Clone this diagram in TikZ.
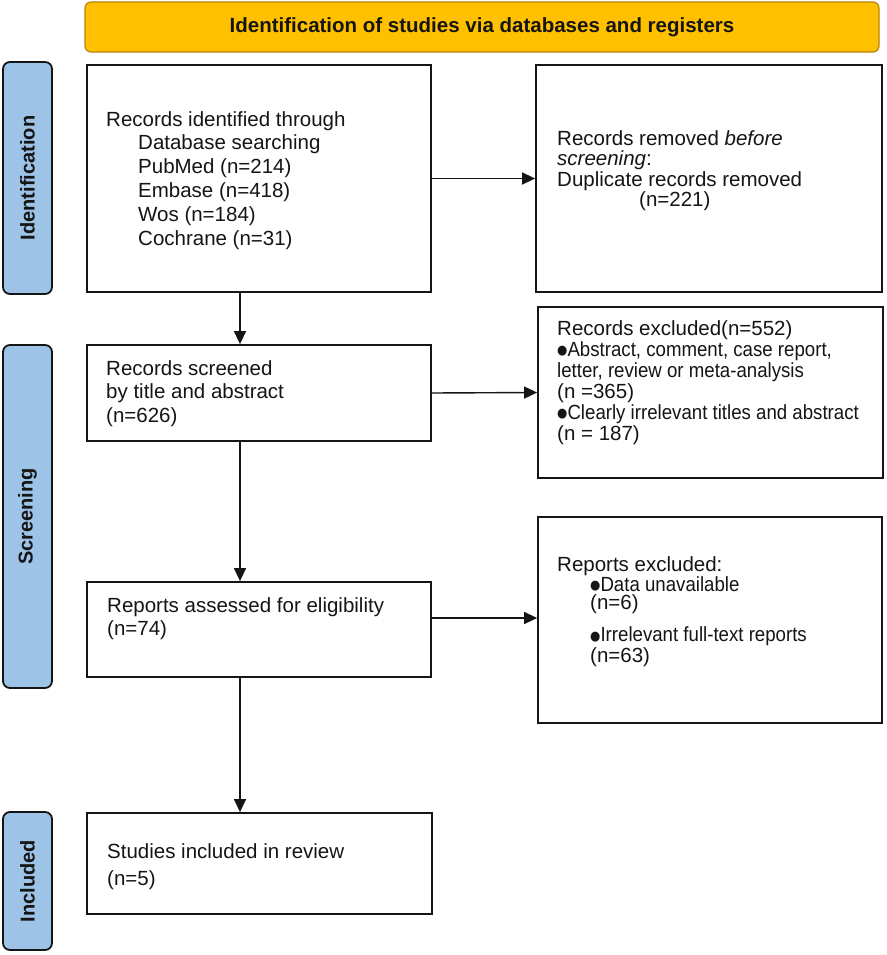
\documentclass[tikz,border=0pt]{standalone}
\usepackage{fontspec}
\setmainfont{Liberation Sans}
\newfontfamily\symfont{DejaVu Sans}
\usetikzlibrary{arrows.meta,fit}
\definecolor{bannerfill}{HTML}{FFC000}
\definecolor{bannerline}{HTML}{B8860B}
\definecolor{sideblue}{HTML}{9DC3E6}
\definecolor{ink}{HTML}{151515}
\newcommand\bul{\raisebox{1.5pt}{\symfont\fontsize{13}{13}\selectfont ●}}
\newcommand\narrow[1]{\scalebox{0.91}[1]{#1}}
\begin{document}
\begin{tikzpicture}[x=1pt,y=-1pt,
  box/.style={draw=ink, line width=1.8pt, inner sep=0pt, fill=white},
  side/.style={draw=ink, line width=1.8pt, fill=sideblue, rounded corners=7pt,
    inner sep=0pt, text=ink, font=\bfseries\fontsize{20}{20}\selectfont},
  banner/.style={draw=bannerline, line width=1.2pt, fill=bannerfill, rounded corners=6pt,
    inner sep=0pt, text=ink, font=\bfseries\fontsize{20.5}{20.5}\selectfont},
  txt/.style={anchor=base west, align=left, inner sep=0pt, text=ink},
  arr/.style={draw=ink, line width=1.4pt, -{Triangle[length=13pt,width=12pt]}}
]
\useasboundingbox[fill=white] (0,0) rectangle (886,955);

% banner
\node[banner, minimum width=794pt, minimum height=50pt] (ban) at (482,27)
  {Identification of studies via databases and registers};

% side labels
\node[side, rotate=90, minimum width=232pt, minimum height=49pt] (s1) at (27.5,178) {Identification};
\node[side, rotate=90, minimum width=343pt, minimum height=49pt] (s2) at (27.5,516.5) {Screening};
\node[side, rotate=90, minimum width=138pt, minimum height=49pt] (s3) at (27.5,881) {Included};

% boxes
\node[box, fit={(87,65)(431,292)}] (b1) {};
\node[box, fit={(536,65)(882,292)}] (b2) {};
\node[box, fit={(87,345)(431,441)}] (b3) {};
\node[box, fit={(538,307)(883,478)}] (b4) {};
\node[box, fit={(87,582)(431,677)}] (b5) {};
\node[box, fit={(538,517)(882,723)}] (b6) {};
\node[box, fit={(87,813)(432,914)}] (b7) {};

% texts (anchored at the baseline of their last line)
\node[txt, font=\fontsize{20.5}{23.8}\selectfont] (t1) at (106,245)
  {Records identified through\\
   \hspace*{32pt}Database searching\\
   \hspace*{32pt}PubMed (n=214)\\
   \hspace*{32pt}Embase (n=418)\\
   \hspace*{32pt}Wos (n=184)\\
   \hspace*{32pt}Cochrane (n=31)};
\node[txt, font=\fontsize{20.5}{20.5}\selectfont] (t2) at (557,206.5)
  {Records removed \textit{before}\\
   \textit{screening}:\\
   Duplicate records removed\\
   \hspace*{82pt}(n=221)};
\node[txt, font=\fontsize{20.5}{23.5}\selectfont] (t3) at (106,422)
  {Records screened\\
   by title and abstract\\
   (n=626)};
\node[txt, font=\fontsize{20.5}{21}\selectfont] (t4) at (557,440)
  {Records excluded(n=552)\\
   \narrow{\bul Abstract, comment, case report,}\\
   \narrow{letter, review or meta-analysis}\\
   (n =365)\\
   \narrow{\bul Clearly irrelevant titles and abstract}\\
   (n = 187)};
\node[txt, font=\fontsize{20.5}{23}\selectfont] (t5) at (107,635)
  {Reports assessed for eligibility\\
   (n=74)};
\node[txt, font=\fontsize{20.5}{18.5}\selectfont] (t6) at (557,662)
  {Reports excluded:\\
   \hspace*{33pt}\narrow{\bul Data unavailable}\\
   \hspace*{33pt}(n=6)\\[12pt]
   \hspace*{33pt}\narrow{\bul Irrelevant full-text reports}\\
   \hspace*{33pt}(n=63)};
\node[txt, font=\fontsize{20.5}{27}\selectfont] (t7) at (107,885)
  {Studies included in review\\
   (n=5)};

% connectors
\coordinate (vx) at (240,0);
\coordinate (hy) at (0,618);
\draw[arr] (vx |- b1.south) -- (vx |- b3.north);
\draw[arr] (vx |- b3.south) -- (vx |- b5.north);
\draw[arr] (vx |- b5.south) -- (vx |- b7.north);
\draw[arr] (b1.east) -- (b2.west);
\draw[arr] (b3.east) -- (b4.west);
\draw[arr] (b5.east |- hy) -- (b6.west |- hy);
\end{tikzpicture}
\end{document}
